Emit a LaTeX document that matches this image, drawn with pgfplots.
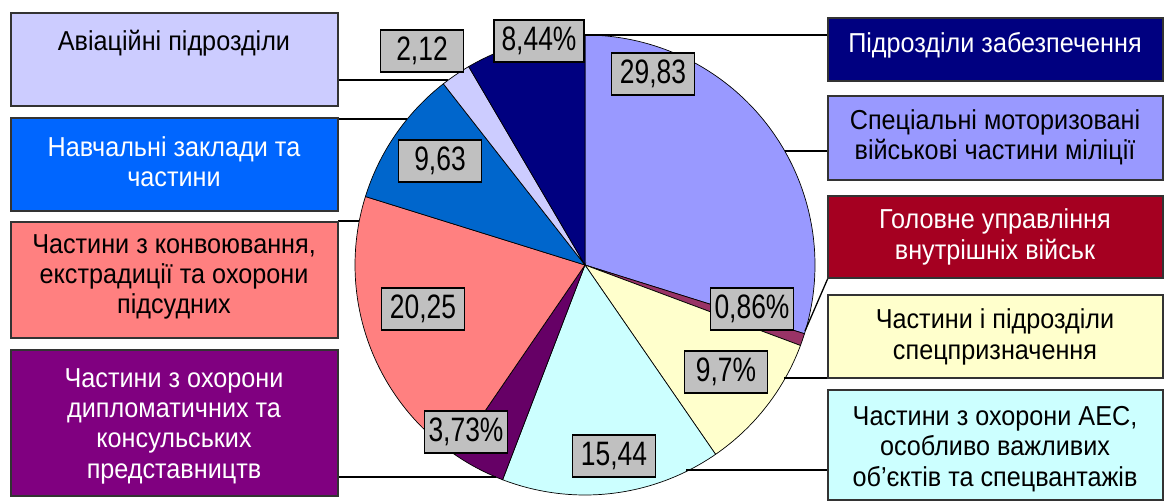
\documentclass[border=0pt]{standalone}
\usepackage{pgfplots}
\pgfplotsset{compat=1.18}
\usepackage{fontspec}
\setmainfont{Liberation Sans}
\newfontfamily\narrowfont[FakeStretch=0.78]{Liberation Sans}
\newfontfamily\boxfont[FakeStretch=0.92]{Liberation Sans}
\definecolor{cA}{HTML}{9999FF}
\definecolor{cB}{HTML}{993366}
\definecolor{cC}{HTML}{FFFFCC}
\definecolor{cD}{HTML}{CCFFFF}
\definecolor{cE}{HTML}{660066}
\definecolor{cF}{HTML}{FF8080}
\definecolor{cG}{HTML}{0066CC}
\definecolor{cH}{HTML}{CCCCFF}
\definecolor{cI}{HTML}{000080}
\definecolor{bB}{HTML}{A50021}
\definecolor{bE}{HTML}{800080}
\definecolor{bG}{HTML}{0066FF}
\definecolor{lgray}{HTML}{C0C0C0}
\definecolor{bord}{HTML}{333333}
\begin{document}
\begin{tikzpicture}
\begin{axis}[hide axis, scale only axis, width=1168bp, height=501bp,
  xmin=0, xmax=1168, ymin=0, ymax=501, y dir=reverse, clip=false]
\path (axis cs:0,0) rectangle (axis cs:1168,501);
% slices: value / colour, clockwise from 12 o'clock
\gdef\cum{0}
\foreach \v/\c in {29.83/cA, 0.86/cB, 9.7/cC, 15.44/cD, 3.73/cE, 20.25/cF, 9.63/cG, 2.12/cH, 8.44/cI} {
  \pgfmathsetmacro\a{90-3.6*\cum}
  \pgfmathsetmacro\b{90-3.6*(\cum+\v)}
  \edef\tmp{\noexpand\addplot[draw=black, line width=0.7pt, fill=\c, domain=\b:\a, samples=90, variable=\noexpand\t]
    ({585+230*cos(\noexpand\t)}, {265-230*sin(\noexpand\t)}) -- (axis cs:585,265) -- cycle;}
  \tmp
  \pgfmathsetmacro\nc{\cum+\v}
  \xdef\cum{\nc}
}
% leader lines
\draw[line width=1.3pt] (axis cs:338,80) -- (axis cs:448,80);
\draw[line width=1.3pt] (axis cs:338,119) -- (axis cs:407,119);
\draw[line width=1.3pt] (axis cs:338,221) -- (axis cs:359,221);
\draw[line width=1.3pt] (axis cs:338,477) -- (axis cs:496,477);
\draw[line width=1.3pt] (axis cs:585,35) -- (axis cs:828,35);
\draw[line width=1.3pt] (axis cs:785,151) -- (axis cs:828,151);
\draw[line width=1.3pt] (axis cs:828,278) -- (axis cs:805,331);
\draw[line width=1.3pt] (axis cs:784,378) -- (axis cs:828,378);
\draw[line width=1.3pt] (axis cs:686,470) -- (axis cs:828,470);
% category boxes
\tikzset{cbox/.style={draw=bord, line width=1.5pt}, ctext/.style={align=center, font=\boxfont\fontsize{27.5}{30.5}\selectfont, inner sep=0pt}}
\filldraw[cbox, fill=cH] (axis cs:11,13) rectangle (axis cs:338,106);
\node[ctext] at (axis cs:174,43) {Авіаційні підрозділи};
\filldraw[cbox, fill=bG] (axis cs:11,118) rectangle (axis cs:338,211);
\node[ctext, text=white] at (axis cs:174,162) {Навчальні заклади та\\частини};
\filldraw[cbox, fill=cF] (axis cs:11,222) rectangle (axis cs:338,338);
\node[ctext] at (axis cs:174,277) {Частини з конвоювання,\\екстрадиції та охорони\\підсудних};
\filldraw[cbox, fill=bE] (axis cs:11,350) rectangle (axis cs:338,496);
\node[ctext, text=white] at (axis cs:174,426) {Частини з охорони\\дипломатичних та\\консульських\\представництв};
\filldraw[cbox, fill=cI] (axis cs:828,18) rectangle (axis cs:1163,81);
\node[ctext, text=white] at (axis cs:995,45) {Підрозділи забезпечення};
\filldraw[cbox, fill=cA] (axis cs:828,96) rectangle (axis cs:1163,180);
\node[ctext] at (axis cs:995,137) {Спеціальні моторизовані\\військові частини міліції};
\filldraw[cbox, fill=bB] (axis cs:828,196) rectangle (axis cs:1163,278);
\node[ctext, text=white] at (axis cs:995,237) {Головне управління\\внутрішніх військ};
\filldraw[cbox, fill=cC] (axis cs:828,295) rectangle (axis cs:1163,378);
\node[ctext] at (axis cs:995,337) {Частини і підрозділи\\спецпризначення};
\filldraw[cbox, fill=cD] (axis cs:828,390) rectangle (axis cs:1163,500);
\node[ctext] at (axis cs:995,449) {Частини з охорони АЕС,\\особливо важливих\\об’єктів та спецвантажів};
% value labels
\tikzset{vlab/.style={fill=lgray, draw=black, line width=1.3pt, minimum width=83bp, minimum height=42bp, inner sep=0pt, font=\narrowfont\fontsize{34}{34}\selectfont}}
\node[vlab] at (axis cs:653,74) {29,83};
\node[vlab] at (axis cs:752,309) {0,86\%};
\node[vlab] at (axis cs:726,372) {9,7\%};
\node[vlab] at (axis cs:614,456) {15,44};
\node[vlab] at (axis cs:466,432) {3,73\%};
\node[vlab] at (axis cs:423,309) {20,25};
\node[vlab] at (axis cs:440,161) {9,63};
\node[vlab] at (axis cs:422,51) {2,12};
\node[vlab, minimum width=90bp] at (axis cs:539,41) {8,44\%};
\end{axis}
\end{tikzpicture}
\end{document}
